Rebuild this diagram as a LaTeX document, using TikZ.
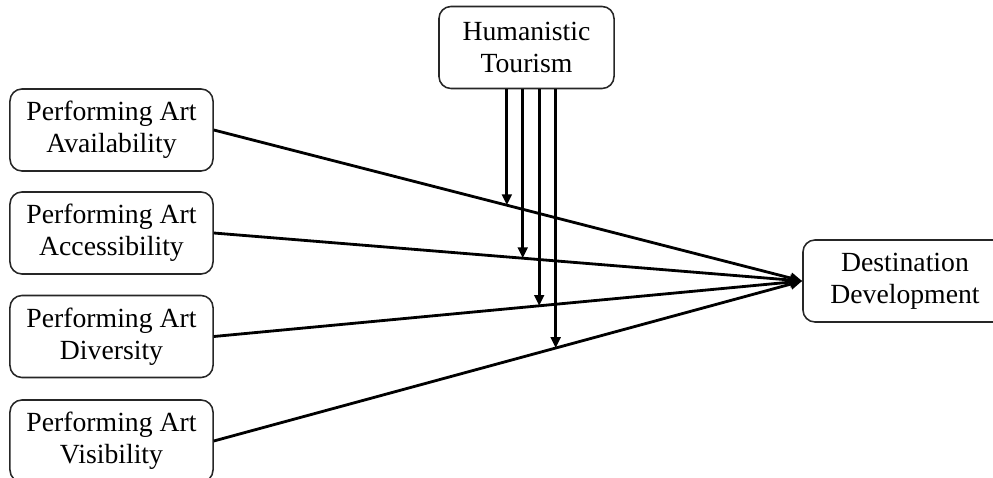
\documentclass[tikz,border=0pt]{standalone}
\usepackage{fontspec}
\setmainfont{Liberation Serif}
\usetikzlibrary{arrows.meta}

\tikzset{
    factor/.style={draw=black!85, line width=1.1pt, rounded corners=0.3cm, align=center,
        minimum width=5.075cm, minimum height=2.05cm, inner sep=0pt,
        font=\fontsize{19.7}{22.7}\selectfont},
    effect/.style={line width=2pt, -{Triangle[length=0.3cm, width=0.26cm]}},
    moderate/.style={line width=1.9pt, -{Triangle[length=0.27cm, width=0.24cm]}}
}

\begin{document}
\begin{tikzpicture}[x=0.025cm, y=-0.025cm]
    \useasboundingbox (0,0) rectangle (993,478);

    % Moderator
    \node[factor, minimum width=4.375cm] (hum) at (526.5,47.5) {Humanistic\\Tourism};

    % Performing art factors
    \node[factor] (avail) at (111.5,130) {Performing Art\\Availability};
    \node[factor] (access) at (111.5,233) {Performing Art\\Accessibility};
    \node[factor] (divers) at (111.5,336.5) {Performing Art\\Diversity};
    \node[factor] (visib) at (111.5,441) {Performing Art\\Visibility};

    % Outcome
    \node[factor, minimum width=5.1cm] (dest) at (905,281) {Destination\\Development};

    % Direct paths
    \draw[effect] (avail.east) -- coordinate[pos=0.498] (m1) (dest.west);
    \draw[effect] (access.east) -- coordinate[pos=0.525] (m2) (dest.west);
    \draw[effect] (divers.east) -- coordinate[pos=0.553] (m3) (dest.west);
    \draw[effect] (visib.east) -- coordinate[pos=0.581] (m4) (dest.west);

    % Moderating paths
    \draw[moderate] (hum.south -| m1) -- (m1);
    \draw[moderate] (hum.south -| m2) -- (m2);
    \draw[moderate] (hum.south -| m3) -- (m3);
    \draw[moderate] (hum.south -| m4) -- (m4);
\end{tikzpicture}
\end{document}
